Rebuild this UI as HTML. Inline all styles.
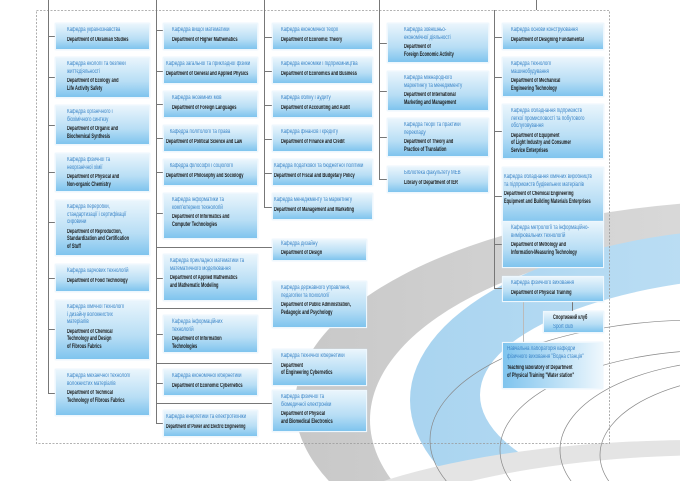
<!DOCTYPE html>
<html><head><meta charset="utf-8"><style>
*{margin:0;padding:0;box-sizing:border-box}
html,body{width:680px;height:481px;overflow:hidden}
body{position:relative;background:#fff;font-family:"Liberation Sans","Noto Sans CJK SC",sans-serif}
.b{position:absolute;background:linear-gradient(#e9f5fc,#b8def5 60%,#7fc4ee);border:1px solid #eef7fd;padding:3px 2px 0 11px;box-shadow:0 0 1px #cfe6f5;overflow:hidden}
.b div{font-size:6px;line-height:7.6px;transform:scaleX(.74);transform-origin:0 0;width:135%;white-space:normal}
.b div.e{font-weight:bold;transform:scaleX(.66);width:152%}
.u{color:#3d86c8;margin-bottom:2px}
.e{color:#1b1b1b}
.l{position:absolute;background:#777}
svg{position:absolute;left:0;top:0}
</style></head><body>
<svg width="680" height="481">
<defs>
<linearGradient id="g" x1="0" y1="0" x2="1" y2="0"><stop offset="0" stop-color="#c8c8c8"/><stop offset=".5" stop-color="#dcdcdc"/><stop offset="1" stop-color="#efefef"/></linearGradient>
<linearGradient id="bl" x1="0" y1="0" x2="1" y2="0"><stop offset="0" stop-color="#a9d4f0"/><stop offset="1" stop-color="#d6ecf9"/></linearGradient>
</defs>
<ellipse cx="770" cy="405" rx="475" ry="205" fill="url(#g)"/>
<ellipse cx="770" cy="420" rx="400" ry="185" fill="#fff"/>
<ellipse cx="770" cy="400" rx="360" ry="172" fill="url(#bl)"/>
<ellipse cx="800" cy="395" rx="320" ry="120" fill="#fff"/>
<ellipse cx="700" cy="560" rx="420" ry="120" fill="#e4e4e4"/>
<ellipse cx="720" cy="575" rx="400" ry="120" fill="#fff"/>
<g fill="none" stroke="#888" stroke-width=".7">
<ellipse cx="700" cy="440" rx="270" ry="120"/>
<ellipse cx="720" cy="450" rx="220" ry="100"/>
<ellipse cx="740" cy="450" rx="180" ry="90"/>
<ellipse cx="760" cy="455" rx="160" ry="80"/>
</g>
<rect x="36.5" y="10.5" width="573" height="433" fill="none" stroke="#999" stroke-width=".8" stroke-dasharray="2,1.5"/>
</svg>
<div class="l" style="left:48px;top:0;width:1px;height:393px"></div>
<div class="l" style="left:156px;top:0;width:1px;height:424px"></div>
<div class="l" style="left:264px;top:0;width:1px;height:207px"></div>
<div class="l" style="left:379px;top:0;width:1px;height:179px"></div>
<div class="l" style="left:494px;top:10px;width:1px;height:278px"></div>
<div class="l" style="left:536px;top:0;width:1px;height:10px"></div>
<div class="l" style="left:48px;top:36px;width:7px;height:1px"></div>
<div class="l" style="left:48px;top:77px;width:7px;height:1px"></div>
<div class="l" style="left:48px;top:125px;width:7px;height:1px"></div>
<div class="l" style="left:48px;top:172px;width:7px;height:1px"></div>
<div class="l" style="left:48px;top:222px;width:7px;height:1px"></div>
<div class="l" style="left:48px;top:278px;width:7px;height:1px"></div>
<div class="l" style="left:48px;top:329px;width:7px;height:1px"></div>
<div class="l" style="left:48px;top:393px;width:7px;height:1px"></div>
<div class="l" style="left:156px;top:30px;width:7px;height:1px"></div>
<div class="l" style="left:156px;top:71px;width:7px;height:1px"></div>
<div class="l" style="left:156px;top:104px;width:7px;height:1px"></div>
<div class="l" style="left:156px;top:138px;width:7px;height:1px"></div>
<div class="l" style="left:156px;top:172px;width:7px;height:1px"></div>
<div class="l" style="left:156px;top:213px;width:7px;height:1px"></div>
<div class="l" style="left:156px;top:278px;width:7px;height:1px"></div>
<div class="l" style="left:156px;top:334px;width:7px;height:1px"></div>
<div class="l" style="left:156px;top:383px;width:7px;height:1px"></div>
<div class="l" style="left:156px;top:423px;width:7px;height:1px"></div>
<div class="l" style="left:156px;top:247px;width:116px;height:1px"></div>
<div class="l" style="left:156px;top:308px;width:116px;height:1px"></div>
<div class="l" style="left:156px;top:363px;width:116px;height:1px"></div>
<div class="l" style="left:156px;top:403px;width:116px;height:1px"></div>
<div class="l" style="left:264px;top:37px;width:8px;height:1px"></div>
<div class="l" style="left:264px;top:71px;width:8px;height:1px"></div>
<div class="l" style="left:264px;top:105px;width:8px;height:1px"></div>
<div class="l" style="left:264px;top:139px;width:8px;height:1px"></div>
<div class="l" style="left:264px;top:173px;width:8px;height:1px"></div>
<div class="l" style="left:264px;top:207px;width:8px;height:1px"></div>
<div class="l" style="left:379px;top:43px;width:8px;height:1px"></div>
<div class="l" style="left:379px;top:91px;width:8px;height:1px"></div>
<div class="l" style="left:379px;top:137px;width:8px;height:1px"></div>
<div class="l" style="left:379px;top:179px;width:8px;height:1px"></div>
<div class="l" style="left:494px;top:37px;width:8px;height:1px"></div>
<div class="l" style="left:494px;top:77px;width:8px;height:1px"></div>
<div class="l" style="left:494px;top:131px;width:8px;height:1px"></div>
<div class="l" style="left:494px;top:196px;width:8px;height:1px"></div>
<div class="l" style="left:494px;top:244px;width:8px;height:1px"></div>
<div class="l" style="left:494px;top:288px;width:8px;height:1px"></div>
<div class="l" style="left:572px;top:302px;width:1px;height:9px"></div>
<div class="l" style="left:523px;top:302px;width:1px;height:40px;background:#bbb"></div>

<div class="b" style="left:55px;top:23px;width:95px;height:27px"><div class="u">Кафедра  українознавства</div><div class="e">Department of Ukrainian Studies</div></div>
<div class="b" style="left:55px;top:57px;width:95px;height:41px"><div class="u">Кафедра екології та безпеки<br>життєдіяльності</div><div class="e">Department of Ecology and<br>Life Activity Safety</div></div>
<div class="b" style="left:55px;top:105px;width:95px;height:40px"><div class="u">Кафедра органічного і<br>біохімічного синтезу</div><div class="e">Department of Organic and<br>Biochemical Synthesis</div></div>
<div class="b" style="left:55px;top:153px;width:95px;height:39px"><div class="u">Кафедра фізичної та<br>неорганічної хімії</div><div class="e">Department of Physical and<br>Non-organic Chemistry</div></div>
<div class="b" style="left:55px;top:200px;width:95px;height:56px"><div class="u">Кафедра переробки,<br>стандартизації і сертифікації<br>сировини</div><div class="e">Department of Reproduction,<br>Standardization and Certification<br>of Stuff</div></div>
<div class="b" style="left:55px;top:264px;width:95px;height:28px"><div class="u">Кафедра харчових технологій</div><div class="e">Department of Food Technology</div></div>
<div class="b" style="left:55px;top:300px;width:95px;height:60px"><div class="u">Кафедра хімічної технології<br>і дизайну волокнистих<br>матеріалів</div><div class="e">Department of Chemical<br>Technology and Design<br>of Fibrous Fabrics</div></div>
<div class="b" style="left:55px;top:369px;width:95px;height:47px"><div class="u">Кафедра механічної технології<br>волокнистих матеріалів</div><div class="e">Department of Technical<br>Technology of Fibrous Fabrics</div></div>

<div class="b" style="left:163px;top:23px;width:95px;height:27px;padding-left:8px"><div class="u">Кафедра вищої математики</div><div class="e">Department of Higher Mathematics</div></div>
<div class="b" style="left:163px;top:57px;width:95px;height:27px;padding-left:2px"><div class="u">Кафедра загальної та прикладної фізики</div><div class="e">Department of General and Applied Physics</div></div>
<div class="b" style="left:163px;top:91px;width:95px;height:27px;padding-left:8px"><div class="u">Кафедра іноземних мов</div><div class="e">Department of Foreign Languages</div></div>
<div class="b" style="left:163px;top:125px;width:95px;height:27px;padding-left:2px"><div class="u">&nbsp;&nbsp;&nbsp;Кафедра політології та права</div><div class="e">Department of Political Science and Law</div></div>
<div class="b" style="left:163px;top:159px;width:95px;height:27px;padding-left:2px"><div class="u">&nbsp;&nbsp;&nbsp;Кафедра філософії і соціології</div><div class="e">Department of Philosophy and Sociology</div></div>
<div class="b" style="left:163px;top:193px;width:95px;height:46px;padding-left:8px"><div class="u">Кафедра інформатики та<br>комп'ютерних технологій</div><div class="e">Department of  Informatics and<br>Computer Technologies</div></div>
<div class="b" style="left:163px;top:254px;width:95px;height:47px;padding-left:6px"><div class="u">Кафедра прикладної математики та<br>математичного моделювання</div><div class="e">Department of  Applied Mathematics<br>and Mathematic Modeling</div></div>
<div class="b" style="left:163px;top:315px;width:95px;height:38px;padding-left:8px"><div class="u">Кафедра інформаційних<br>технологій</div><div class="e">Department of Information<br>Technologies</div></div>
<div class="b" style="left:163px;top:369px;width:95px;height:27px;padding-left:8px"><div class="u">Кафедра економічної кібернетики</div><div class="e">Department of Economic Cybernetics</div></div>
<div class="b" style="left:163px;top:410px;width:95px;height:27px;padding-left:2px"><div class="u" style="white-space:nowrap">Кафедра енергетики та електротехніки</div><div class="e" style="white-space:nowrap;transform:scaleX(.6)">Department of Power and Electric Engineering</div></div>

<div class="b" style="left:272px;top:23px;width:101px;height:27px;padding-left:8px"><div class="u">Кафедра економічної теорії</div><div class="e">Department of  Economic Theory</div></div>
<div class="b" style="left:272px;top:57px;width:101px;height:27px;padding-left:8px"><div class="u">Кафедра економіки і підприємництва</div><div class="e">Department of Economics and Business</div></div>
<div class="b" style="left:272px;top:91px;width:101px;height:27px;padding-left:8px"><div class="u">Кафедра обліку і аудиту</div><div class="e">Department of Accounting and Audit</div></div>
<div class="b" style="left:272px;top:125px;width:101px;height:27px;padding-left:8px"><div class="u">Кафедра фінансів і кредиту</div><div class="e">Department of Finance and Credit</div></div>
<div class="b" style="left:272px;top:159px;width:101px;height:27px;padding-left:1px"><div class="u">Кафедра податкової та бюджетної політики</div><div class="e">Department of  Fiscal and Budgetary Policy</div></div>
<div class="b" style="left:272px;top:193px;width:101px;height:27px;padding-left:1px"><div class="u">Кафедра менеджменту та маркетингу</div><div class="e">Department of Management and Marketing</div></div>
<div class="b" style="left:272px;top:239px;width:95px;height:22px;padding-left:8px;padding-top:1px"><div class="u" style="margin-bottom:1px">Кафедра дизайну</div><div class="e">Department of Design</div></div>
<div class="b" style="left:272px;top:281px;width:95px;height:47px;padding-left:8px"><div class="u">Кафедра державного управління,<br>педагогіки та психології</div><div class="e">Department of Public Administration,<br>Pedagogic and Psychology</div></div>
<div class="b" style="left:272px;top:349px;width:95px;height:37px;padding-left:8px"><div class="u">Кафедра технічної кібернетики</div><div class="e">Department<br>of Engineering Cybernetics</div></div>
<div class="b" style="left:272px;top:390px;width:95px;height:42px;padding-left:8px"><div class="u">Кафедра фізичної та<br>біомедичної електроніки</div><div class="e">Department of Physical<br>and Biomedical Electronics</div></div>

<div class="b" style="left:387px;top:23px;width:102px;height:40px;padding-left:16px"><div class="u">Кафедра зовнішньо-<br>економічної діяльності</div><div class="e">Department of<br>Foreign Economic Activity</div></div>
<div class="b" style="left:387px;top:71px;width:102px;height:40px;padding-left:16px"><div class="u">Кафедра міжнародного<br>маркетингу та менеджменту</div><div class="e">Department of  International<br>Marketing and Management</div></div>
<div class="b" style="left:387px;top:118px;width:102px;height:39px;padding-left:16px"><div class="u">Кафедра теорії та практики<br>перекладу</div><div class="e">Department of Theory and<br>Practice of Translation</div></div>
<div class="b" style="left:387px;top:166px;width:102px;height:27px;padding-left:16px"><div class="u">Бібліотека факультету МЕВ</div><div class="e">Library of Department of IER</div></div>

<div class="b" style="left:502px;top:23px;width:102px;height:27px;padding-left:8px"><div class="u">Кафедра основи  конструювання</div><div class="e">Department of Designing Fundamental</div></div>
<div class="b" style="left:502px;top:57px;width:102px;height:40px;padding-left:8px"><div class="u">Кафедра технології<br>машинобудування</div><div class="e">Department of Mechanical<br>Engineering Technology</div></div>
<div class="b" style="left:502px;top:104px;width:102px;height:55px;padding-left:8px"><div class="u">Кафедра обладнання підприємств<br>легкої промисловості та побутового<br>обслуговування</div><div class="e">Department of Equipment<br>of Light Industry and Consumer<br>Service Enterprises</div></div>
<div class="b" style="left:502px;top:167px;width:102px;height:58px;padding-left:1px;padding-top:6px"><div class="u">Кафедра обладнання хімічних виробництв<br>та підприємств будівельних матеріалів</div><div class="e">Department of Chemical Engineering<br>Equipment and Building Materials Enterprises</div></div>
<div class="b" style="left:502px;top:221px;width:102px;height:47px;padding-left:8px"><div class="u">Кафедра метрології та інформаційно-<br>вимірювальних технологій</div><div class="e">Department of Metrology and<br>Information-Measuring Technology</div></div>
<div class="b" style="left:502px;top:276px;width:102px;height:26px;padding-left:8px"><div class="u">Кафедра фізичного виховання</div><div class="e">Department of Physical Training</div></div>
<div class="b" style="left:543px;top:311px;width:61px;height:22px;padding-left:9px"><div class="e" style="margin-bottom:1px">Спортивний клуб</div><div class="u">Sport club</div></div>
<div class="b" style="left:502px;top:342px;width:101px;height:47px;padding-left:4px;background:linear-gradient(90deg,#7fc4ee,#cbe7f8 70%,#eef7fd)"><div class="u" style="margin-bottom:4px">Навчальна лабораторія кафедри<br>фізичного виховання "Водна станція"</div><div class="e">Teaching laboratory of Department<br>of Physical Training "Water station"</div></div>
</body></html>
